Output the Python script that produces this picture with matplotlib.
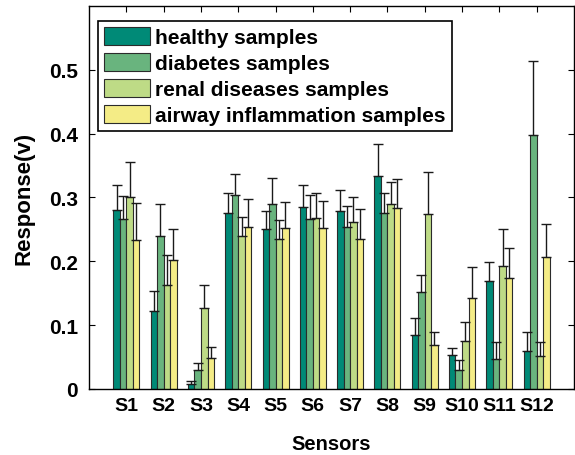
import numpy as np
import matplotlib
matplotlib.use("Agg")
import matplotlib.pyplot as plt

plt.rcParams['font.family'] = ['Liberation Sans', 'DejaVu Sans']
plt.rcParams['font.weight'] = 'bold'

sensors = ['S1', 'S2', 'S3', 'S4', 'S5', 'S6', 'S7', 'S8', 'S9', 'S10', 'S11', 'S12']
series = ['healthy samples', 'diabetes samples', 'renal diseases samples',
          'airway inflammation samples']

healthy = [0.280, 0.122, 0.007, 0.276, 0.251, 0.285, 0.279, 0.333, 0.084, 0.053, 0.169, 0.060]
diabetes = [0.266, 0.239, 0.030, 0.304, 0.289, 0.266, 0.254, 0.275, 0.152, 0.030, 0.047, 0.398]
renal = [0.301, 0.163, 0.126, 0.240, 0.235, 0.268, 0.262, 0.289, 0.274, 0.075, 0.192, 0.051]
airway = [0.233, 0.202, 0.049, 0.254, 0.252, 0.252, 0.234, 0.284, 0.068, 0.142, 0.174, 0.206]

healthy_err = [0.040, 0.031, 0.005, 0.031, 0.027, 0.035, 0.032, 0.050, 0.027, 0.011, 0.030, 0.029]
diabetes_err = [0.036, 0.050, 0.010, 0.032, 0.041, 0.037, 0.032, 0.032, 0.027, 0.016, 0.026, 0.116]
renal_err = [0.054, 0.046, 0.036, 0.029, 0.029, 0.039, 0.039, 0.035, 0.066, 0.030, 0.058, 0.023]
airway_err = [0.058, 0.048, 0.016, 0.044, 0.041, 0.042, 0.048, 0.044, 0.021, 0.049, 0.047, 0.053]

colors = ['#008a77', '#69b47e', '#bedb86', '#f4ec86']

values = [healthy, diabetes, renal, airway]
errors = [healthy_err, diabetes_err, renal_err, airway_err]

fig = plt.figure(figsize=(5.75, 4.56), dpi=100)
ax = fig.add_axes([0.155, 0.145, 0.843, 0.84])

x = np.arange(1, len(sensors) + 1)
width = 0.175
offsets = (np.arange(4) - 1.5) * width

for vals, errs, col, lab, off in zip(values, errors, colors, series, offsets):
    ax.bar(x + off, vals, width, color=col, edgecolor='#2b2b2b', linewidth=0.8,
           label=lab, zorder=2)
    ax.errorbar(x + off, vals, yerr=[np.zeros(len(errs)), errs], fmt='none',
                ecolor='#1a1a1a', elinewidth=1.0, capsize=3.5, capthick=1.0, zorder=3)

ax.set_xlim(0, 13)
ax.set_ylim(0, 0.6)
ax.set_xticks(x)
ax.set_xticklabels(sensors)
ax.set_yticks([0, 0.1, 0.2, 0.3, 0.4, 0.5])
ax.set_yticklabels(['0', '0.1', '0.2', '0.3', '0.4', '0.5'])
ax.tick_params(axis='both', direction='in', top=True, right=True, length=4, pad=6)
ax.tick_params(axis='x', labelsize=14)
ax.tick_params(axis='y', labelsize=15, pad=8)
for lbl in ax.get_xticklabels() + ax.get_yticklabels():
    lbl.set_fontweight('bold')
for sp in ax.spines.values():
    sp.set_linewidth(1.0)

ax.set_xlabel('Sensors', fontsize=14.5, fontweight='bold', labelpad=14)
ax.set_ylabel('Response(v)', fontsize=16, fontweight='bold', labelpad=10)

leg = ax.legend(loc='upper left', bbox_to_anchor=(0.0186, 0.961), fontsize=15,
                frameon=True, fancybox=False, edgecolor='black', framealpha=1,
                handlelength=2.2, handleheight=0.95, handletextpad=0.25,
                labelspacing=0.28, borderpad=0.3, borderaxespad=0.0)
leg.get_frame().set_linewidth(1.2)
for t in leg.get_texts():
    t.set_fontweight('bold')

fig.savefig('out.png', dpi=100)
